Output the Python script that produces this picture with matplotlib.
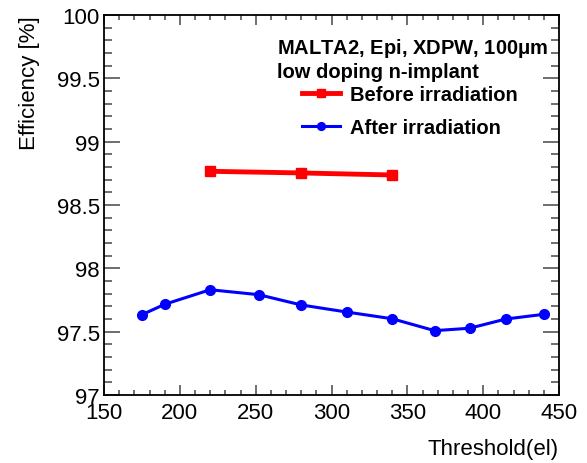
import matplotlib
matplotlib.use('Agg')
import matplotlib.pyplot as plt
from matplotlib.ticker import MultipleLocator

matplotlib.rcParams['font.family'] = ['Liberation Sans', 'DejaVu Sans']
matplotlib.rcParams['mathtext.fontset'] = 'custom'
matplotlib.rcParams['mathtext.rm'] = 'Liberation Sans'
matplotlib.rcParams['mathtext.bf'] = 'Liberation Sans:bold'

# before irradiation
thr_before = [220, 280, 340]
eff_before = [98.766, 98.753, 98.737]

# after irradiation
thr_after = [175, 190, 220, 252, 280, 310, 340, 368, 391, 415, 440]
eff_after = [97.634, 97.716, 97.831, 97.792, 97.711, 97.655, 97.602,
             97.508, 97.527, 97.600, 97.637]

red = '#ff0000'
blue = '#0000ff'

fig = plt.figure(figsize=(5.87, 4.64), dpi=100)
ax = fig.add_axes([104/587, 68/464, 455/587, 380/464])

ax.plot(thr_before, eff_before, color=red, lw=3.5, marker='s', markersize=7.5,
        label='Before irradiation')
ax.plot(thr_after, eff_after, color=blue, lw=2.2, marker='o', markersize=7,
        label='After irradiation')

ax.set_xlim(150, 450)
ax.set_ylim(97, 100)
ax.xaxis.set_major_locator(MultipleLocator(50))
ax.xaxis.set_minor_locator(MultipleLocator(10))
ax.yaxis.set_major_locator(MultipleLocator(0.5))
ax.yaxis.set_minor_locator(MultipleLocator(0.1))
ax.yaxis.set_major_formatter(lambda v, p: '%g' % v)

ax.tick_params(axis='both', which='both', direction='in', top=True, right=True,
               labelsize=16, width=1.2, color='#555555')
ax.tick_params(axis='x', which='major', length=7.2, pad=5)
ax.tick_params(axis='x', which='minor', length=3.4)
ax.tick_params(axis='y', which='major', length=11.5, pad=3)
ax.tick_params(axis='y', which='minor', length=5.5)
for s in ax.spines.values():
    s.set_linewidth(1.3)

ax.set_xlabel('Threshold(el)', fontsize=16, loc='right', labelpad=11)
ax.set_ylabel('Efficiency [%]', fontsize=16, loc='top', labelpad=12)

ax.text((277 - 104) / 455, (396 - 54) / 380, r'MALTA2, Epi, XDPW, 100$\mathbf{\mu}$m',
        transform=ax.transAxes, fontsize=14.5, fontweight='bold')
ax.text((277 - 104) / 455, (396 - 78) / 380, 'low doping n-implant',
        transform=ax.transAxes, fontsize=14.5, fontweight='bold')

leg = ax.legend(loc='upper left', bbox_to_anchor=((302 - 104) / 455, (396 - 86) / 380),
                frameon=False, borderpad=0, borderaxespad=0, handlelength=1.9,
                handletextpad=0.5, labelspacing=0.72, markerscale=0.8,
                prop={'weight': 'bold', 'size': 14.5})

fig.savefig('out.png', dpi=100)
